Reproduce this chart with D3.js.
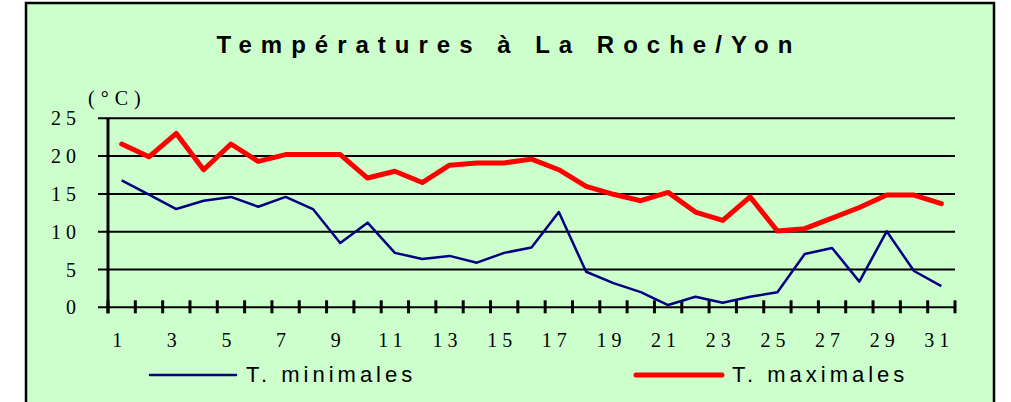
<!DOCTYPE html>
<html>
<head>
<meta charset="utf-8">
<script src="https://cdn.jsdelivr.net/npm/d3@7"></script>
<style>
  body { margin: 0; background: #fff; }
</style>
</head>
<body>
<div id="chart"></div>
<script>
// days of the month
var days = d3.range(1, 32);
// minimum temperatures (°C)
var tMin = [16.8, 14.9, 13.0, 14.1, 14.6, 13.3, 14.6, 13.0, 8.5, 11.2,
            7.2, 6.4, 6.8, 5.9, 7.2, 7.9, 12.6, 4.7, 3.2, 2.0,
            0.3, 1.4, 0.6, 1.4, 2.0, 7.05, 7.85, 3.4, 10.05, 4.8, 2.8];
// maximum temperatures (°C)
var tMax = [21.6, 19.9, 23.0, 18.2, 21.6, 19.3, 20.2, 20.2, 20.2, 17.1,
            18.0, 16.5, 18.8, 19.1, 19.1, 19.6, 18.2, 16.0, 14.95, 14.1,
            15.2, 12.6, 11.5, 14.6, 10.1, 10.4, 11.8, 13.2, 14.85, 14.85, 13.7];
var yTicks = [0, 5, 10, 15, 20, 25];
var xLabels = days.filter(d => d % 2 == 1);

var svgWidth = 1011;
var svgHeight = 402;

var plot = { left: 108, right: 955, top: 118.3, bottom: 307.3 };

var svg = d3.select("#chart")
  .append("svg")
  .attr("width", svgWidth)
  .attr("height", svgHeight);

// green panel with black border
svg.append("rect")
  .attr("x", 26)
  .attr("y", 3)
  .attr("width", 968)
  .attr("height", 420)
  .style("fill", "#CCFFCC")
  .style("stroke", "black")
  .style("stroke-width", 2.5);

// title
svg.append("text")
  .attr("x", 509)
  .attr("y", 53)
  .style("text-anchor", "middle")
  .style("font-family", "Arial, 'Liberation Sans', sans-serif")
  .style("font-weight", "bold")
  .style("font-size", "24px")
  .style("letter-spacing", "9px")
  .text("Températures à La Roche/Yon");

var x = d3.scaleBand()
  .domain(days)
  .range([plot.left, plot.right])
  .padding(0);

var y = d3.scaleLinear()
  .domain([0, 25])
  .range([plot.bottom, plot.top]);

// horizontal grid lines
svg.selectAll(".grid")
  .data(yTicks)
  .enter()
  .append("line")
  .attr("x1", plot.left - 10)
  .attr("x2", plot.right)
  .attr("y1", d => y(d))
  .attr("y2", d => y(d))
  .style("stroke", "black")
  .style("stroke-width", 2);

// y labels
svg.selectAll(".ylab")
  .data(yTicks)
  .enter()
  .append("text")
  .attr("x", 81)
  .attr("y", d => y(d) + 7)
  .style("text-anchor", "end")
  .style("font-family", "'Liberation Serif', 'Times New Roman', serif")
  .style("font-size", "20px")
  .style("letter-spacing", "5px")
  .text(d => d);

svg.append("text")
  .attr("x", 88)
  .attr("y", 105)
  .style("font-family", "'Liberation Serif', 'Times New Roman', serif")
  .style("font-size", "20px")
  .style("letter-spacing", "6px")
  .text("(°C)");

// y axis
svg.append("line")
  .attr("x1", plot.left)
  .attr("x2", plot.left)
  .attr("y1", plot.top)
  .attr("y2", plot.bottom + 6)
  .style("stroke", "black")
  .style("stroke-width", 3);

// x ticks between categories
var tickPos = days.map(d => x(d)).concat([plot.right]);
svg.selectAll(".xtick")
  .data(tickPos)
  .enter()
  .append("line")
  .attr("x1", d => d)
  .attr("x2", d => d)
  .attr("y1", plot.bottom - 7)
  .attr("y2", plot.bottom + 6)
  .style("stroke", "black")
  .style("stroke-width", 3);

// x labels
svg.selectAll(".xlab")
  .data(xLabels)
  .enter()
  .append("text")
  .attr("x", d => x(d) + x.bandwidth() / 2 - 2)
  .attr("y", 347)
  .style("text-anchor", "middle")
  .style("font-family", "'Liberation Serif', 'Times New Roman', serif")
  .style("font-size", "20px")
  .style("letter-spacing", "5px")
  .text(d => d);

var line = d3.line()
  .x((d, i) => x(days[i]) + x.bandwidth() / 2)
  .y(d => y(d));

svg.append("path")
  .datum(tMin)
  .attr("d", line)
  .style("fill", "none")
  .style("stroke", "#000080")
  .style("stroke-width", 2.5)
  .style("stroke-linejoin", "round");

svg.append("path")
  .datum(tMax)
  .attr("d", line)
  .style("fill", "none")
  .style("stroke", "#FF0000")
  .style("stroke-width", 5)
  .style("stroke-linejoin", "round")
  .style("stroke-linecap", "round");

// legend
var legend = [
  { name: "T. minimales", color: "#000080", width: 2.5, x: 150 },
  { name: "T. maximales", color: "#FF0000", width: 5, x: 636 }
];

legend.forEach(function (l) {
  svg.append("line")
    .attr("x1", l.x)
    .attr("x2", l.x + 86)
    .attr("y1", 375)
    .attr("y2", 375)
    .style("stroke", l.color)
    .style("stroke-width", l.width)
    .style("stroke-linecap", "round");
  svg.append("text")
    .attr("x", l.x + 96)
    .attr("y", 382)
    .style("font-family", "Arial, 'Liberation Sans', sans-serif")
    .style("font-size", "22px")
    .style("letter-spacing", "4px")
    .text(l.name);
});
</script>
</body>
</html>
